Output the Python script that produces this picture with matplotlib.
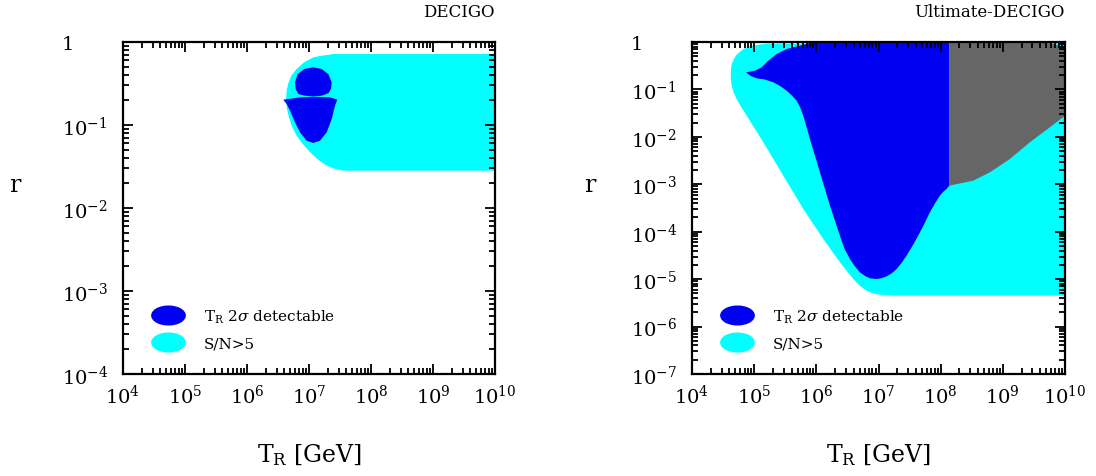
import numpy as np
import matplotlib.pyplot as plt
from matplotlib.path import Path
from matplotlib.transforms import Affine2D
from matplotlib.lines import Line2D
from matplotlib.ticker import FixedLocator, FuncFormatter, LogLocator, NullFormatter

plt.rcParams['font.family'] = ['DejaVu Serif']
plt.rcParams['mathtext.fontset'] = 'dejavuserif'

# --- DECIGO panel (log10 T_R, log10 r) ---
decigo_snr_logT = [10.0, 7.39, 7.29, 7.18, 7.07, 6.92, 6.80, 6.72, 6.67, 6.64, 6.63, 6.64, 6.67, 6.72, 6.80,
                   6.90, 7.02, 7.15, 7.29, 7.40, 7.55, 10.0]
decigo_snr_logr = [-0.145, -0.145, -0.157, -0.168, -0.185, -0.245, -0.325, -0.40, -0.486, -0.58, -0.687, -0.79,
                   -0.888, -1.01, -1.129, -1.23, -1.329, -1.42, -1.490, -1.525, -1.55, -1.55]

decigo_cap_logT = [6.925, 7.07, 7.204, 7.312, 7.366, 7.355, 7.312, 7.204, 7.07, 6.935, 6.828, 6.785, 6.774, 6.817]
decigo_cap_logr = [-0.325, -0.305, -0.325, -0.386, -0.486, -0.566, -0.618, -0.647, -0.655, -0.647, -0.627, -0.566,
                   -0.486, -0.386]

decigo_bowl_logT = [6.586, 6.855, 7.07, 7.339, 7.457, 7.419, 7.366, 7.285, 7.177, 7.07, 6.962, 6.855, 6.774,
                    6.694, 6.64]
decigo_bowl_logr = [-0.695, -0.667, -0.659, -0.667, -0.695, -0.767, -0.928, -1.088, -1.189, -1.217, -1.189,
                    -1.088, -0.968, -0.827, -0.747]

# --- Ultimate-DECIGO panel ---
ult_snr_logT = [10.0, 5.200, 5.05, 4.932, 4.84, 4.772, 4.71, 4.675, 4.64, 4.627, 4.622, 4.638, 4.67, 4.718,
                4.79, 4.879, 5.147, 5.468, 5.790, 6.111, 6.379, 6.594, 6.70, 6.808, 6.91, 7.023, 7.291, 10.0]
ult_snr_logr = [-0.02, -0.035, -0.06, -0.091, -0.14, -0.204, -0.28, -0.358, -0.46, -0.569, -0.745, -0.921,
                -1.06, -1.202, -1.37, -1.553, -2.115, -2.818, -3.521, -4.153, -4.645, -4.997, -5.14, -5.243,
                -5.30, -5.327, -5.348, -5.348]

ult_det_logT = [4.868, 5.013, 5.120, 5.227, 5.361, 5.522, 5.736, 5.9, 8.137, 8.137, 8.094, 8.04, 7.987, 7.91,
                7.826, 7.75, 7.666, 7.56, 7.451, 7.37, 7.291, 7.21, 7.130, 7.05, 6.969, 6.862, 6.78, 6.701,
                6.62, 6.540, 6.45, 6.379, 6.219, 6.058, 5.897, 5.84, 5.790, 5.74, 5.683, 5.60, 5.522, 5.42,
                5.308, 5.17, 5.040, 4.95]
ult_det_logr = [-0.640, -0.604, -0.534, -0.394, -0.253, -0.148, -0.077, -0.02, -0.02, -3.029, -3.099, -3.16,
                -3.240, -3.40, -3.591, -3.80, -4.013, -4.27, -4.505, -4.66, -4.786, -4.88, -4.941, -4.98,
                -4.997, -4.983, -4.93, -4.856, -4.73, -4.575, -4.35, -4.083, -3.451, -2.748, -2.045, -1.78,
                -1.553, -1.38, -1.237, -1.12, -1.026, -0.93, -0.850, -0.79, -0.766, -0.72]

ult_gray_logT = [8.137, 9.65, 9.8, 9.9, 10.0, 10.0, 9.756, 9.434, 9.113, 8.791, 8.523, 8.137]
ult_gray_logr = [0.0, 0.0, -0.04, -0.08, -0.13, -1.553, -1.799, -2.115, -2.467, -2.748, -2.924, -3.029]

x_decades = [4, 5, 6, 7, 8, 9, 10]

blue = '#0000f2'
cyan = '#00ffff'
gray = '#666666'

W, H = 1096, 477
fig = plt.figure(figsize=(W / 100, H / 100), dpi=100)
ax1 = fig.add_axes([123 / W, 102 / H, 372 / W, 332 / H])
ax2 = fig.add_axes([692 / W, 102 / H, 373 / W, 332 / H])


def fill(ax, lt, lr, c):
    ax.fill(10 ** np.array(lt), 10 ** np.array(lr), color=c, lw=0)


fill(ax1, decigo_snr_logT, decigo_snr_logr, cyan)
fill(ax1, decigo_bowl_logT, decigo_bowl_logr, blue)
fill(ax1, decigo_cap_logT, decigo_cap_logr, blue)

fill(ax2, ult_snr_logT, ult_snr_logr, cyan)
fill(ax2, ult_det_logT, ult_det_logr, blue)
fill(ax2, ult_gray_logT, ult_gray_logr, gray)

ellipse = Path.unit_circle().transformed(Affine2D().scale(1.0, 0.56))
handles = [Line2D([], [], ls='none', marker=ellipse, ms=24, mfc=blue, mec=blue),
           Line2D([], [], ls='none', marker=ellipse, ms=24, mfc=cyan, mec=cyan)]
labels = [r'T$_{\rm R}$ 2$\sigma$ detectable', 'S/N>5']

for ax, ymin, title in [(ax1, -4, 'DECIGO'), (ax2, -7, 'Ultimate-DECIGO')]:
    ax.set_xscale('log')
    ax.set_yscale('log')
    ax.set_xlim(1e4, 1e10)
    ax.set_ylim(10.0 ** ymin, 1)
    ax.xaxis.set_major_locator(FixedLocator([10.0 ** k for k in x_decades]))
    ax.xaxis.set_major_formatter(FuncFormatter(lambda v, p: r'$10^{%d}$' % round(np.log10(v))))
    ax.yaxis.set_major_locator(FixedLocator([10.0 ** k for k in range(ymin, 1)]))
    ax.yaxis.set_major_formatter(FuncFormatter(
        lambda v, p: '1' if round(np.log10(v)) == 0 else r'$10^{%d}$' % round(np.log10(v))))
    ax.xaxis.set_minor_locator(LogLocator(base=10, subs=np.arange(2, 10), numticks=20))
    ax.yaxis.set_minor_locator(LogLocator(base=10, subs=np.arange(2, 10), numticks=20))
    ax.xaxis.set_minor_formatter(NullFormatter())
    ax.yaxis.set_minor_formatter(NullFormatter())
    ax.tick_params(which='both', direction='in', top=True, right=True, width=1.3, labelsize=14)
    ax.tick_params(which='major', length=7)
    ax.tick_params(which='minor', length=4)
    ax.tick_params(axis='x', pad=7)
    ax.tick_params(axis='y', pad=44)
    for lbl in ax.get_yticklabels():
        lbl.set_horizontalalignment('left')
    for s in ax.spines.values():
        s.set_linewidth(1.6)
    ax.set_title(title, loc='right', fontsize=12, pad=19)
    ax.set_xlabel(r'T$_{\rm R}$ [GeV]', fontsize=17, labelpad=25)
    ax.set_ylabel('r', fontsize=17, rotation=0, va='center', ha='center')
    ax.legend(handles, labels, loc='lower left', bbox_to_anchor=(0.04, 0.03),
              frameon=False, fontsize=11, handlelength=2.2, handletextpad=1.2,
              labelspacing=0.75)

ax1.yaxis.set_label_coords(-108 / 372, 0.572)
ax2.yaxis.set_label_coords(-102 / 373, 0.572)

fig.savefig('out.png', dpi=100)
